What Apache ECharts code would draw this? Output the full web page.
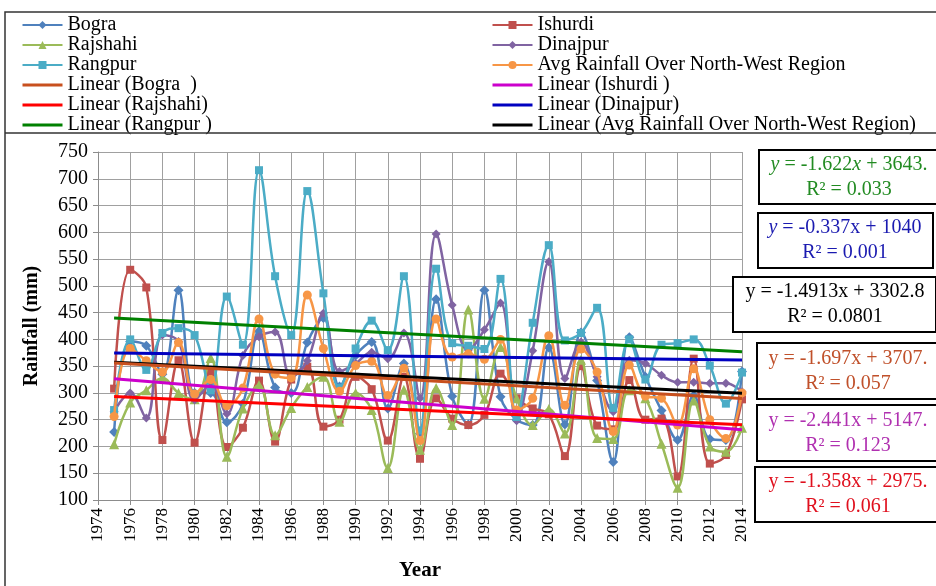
<!DOCTYPE html>
<html><head><meta charset="utf-8">
<script src="https://cdn.jsdelivr.net/npm/echarts@6/dist/echarts.min.js"></script>
<style>html,body{margin:0;padding:0;background:#fff}#c{width:936px;height:586px}</style>
</head><body><div id="c"></div>
<script>
const years = [1975,1976,1977,1978,1979,1980,1981,1982,1983,1984,1985,1986,1987,1988,1989,1990,1991,1992,1993,1994,1995,1996,1997,1998,1999,2000,2001,2002,2003,2004,2005,2006,2007,2008,2009,2010,2011,2012,2013,2014];
const bogra    = [227,396,388,335,492,300,300,245,280,415,310,300,394,440,312,370,395,271,355,224,475,294,241,492,293,250,240,385,241,413,323,171,404,330,267,212,295,214,212,340];
const ishurdi  = [308,530,497,212,361,207,340,199,235,323,209,325,349,237,250,330,307,211,330,177,290,252,240,259,336,290,271,260,182,350,239,232,324,250,252,144,364,168,184,288];
const rajshahi = [204,282,305,328,300,288,365,181,271,315,221,272,311,330,246,300,268,160,306,194,309,240,456,289,386,290,240,270,224,362,216,214,305,290,205,123,286,200,190,235];
const dinajpur = [265,300,253,408,396,287,315,261,370,405,414,330,360,449,340,355,376,364,412,290,597,464,380,418,468,248,379,545,327,395,330,265,361,355,333,320,320,318,318,302];
const rangpur  = [268,400,343,412,421,408,305,480,390,716,518,408,677,486,309,383,435,380,518,230,532,393,388,382,513,255,431,576,398,412,459,272,400,325,390,393,400,351,280,338];
const avgNW    = [256,383,360,339,394,298,325,276,309,438,335,328,483,383,303,351,359,295,346,211,438,367,373,363,400,268,290,407,277,382,339,228,352,294,290,240,345,250,215,300];

const seriesNames = ['Bogra','Ishurdi','Rajshahi','Dinajpur','Rangpur','Avg Rainfall Over North-West Region'];
const trendNames = ['Linear (Bogra  )','Linear (Ishurdi )','Linear (Rajshahi)','Linear (Dinajpur)','Linear (Rangpur )','Linear (Avg Rainfall Over North-West Region)'];
const trendSlopes = [-1.697,-2.441,-1.358,-0.337,-1.622,-1.4913];
const trendIntercepts = [3707.5,5147.5,2975.5,1040,3643.5,3302.8];
const trendR2 = ['0.057','0.123','0.061','0.001','0.033','0.0801'];
const yTicks = [100,750,50];
const xTicks = [1974,2014,2];

const FONT = "'Liberation Serif','Times New Roman',serif";
const dataColors = ['#4F81BD','#C0504D','#9BBB59','#8064A2','#4BACC6','#F79646'];
const trendColors = ['#C8501E','#CC00CC','#FF0000','#0000C0','#008000','#000000'];
const symbols = ['diamond','rect','triangle','diamond','rect','circle'];
const symSizes = [10,8,10,9,8,9];
const allData = [bogra,ishurdi,rajshahi,dinajpur,rangpur,avgNW];

const series = [];
allData.forEach((arr,k)=>{
  series.push({
    name: seriesNames[k], type:'line', smooth:0.4,
    data: years.map((y,i)=>[y,arr[i]]),
    symbol: symbols[k], symbolSize: symSizes[k],
    lineStyle:{color:dataColors[k], width:2.5},
    itemStyle:{color:dataColors[k]},
    z: 2+k
  });
});
[4,3,5,0,1,2].forEach(k=>{
  const x0 = years[0], x1 = years[years.length-1];
  series.push({
    name: trendNames[k], type:'line', symbol:'none',
    data: [[x0, trendSlopes[k]*x0+trendIntercepts[k]],[x1, trendSlopes[k]*x1+trendIntercepts[k]]],
    lineStyle:{color:trendColors[k], width:3},
    itemStyle:{color:trendColors[k]},
    z: 20
  });
});

const legendText = {fontFamily:FONT, fontSize:20, color:'#000'};
function legItem(name, isTrend){
  return isTrend ? {name:name, itemStyle:{opacity:0}, lineStyle:{width:3}} : {name:name};
}
const boxes = [
  {k:4, x:759, y:150, w:190, h:54, cx:849, col:'#228B22', italic:true},
  {k:3, x:758, y:213, w:175, h:55, cx:845, col:'#1A1AB0', italic:'y'},
  {k:5, x:733, y:277, w:203, h:55, cx:835, col:'#000000', italic:false},
  {k:0, x:757, y:343, w:190, h:56, cx:848, col:'#C0502A', italic:false},
  {k:1, x:757, y:405, w:190, h:56, cx:848, col:'#B030B0', italic:false},
  {k:2, x:755, y:467, w:190, h:55, cx:848, col:'#E0101E', italic:false}
];
function eqText(b){
  const s = Math.abs(trendSlopes[b.k]);
  let sl = (b.k===5)? s.toFixed(4) : s.toFixed(3);
  let ic = trendIntercepts[b.k];
  let it = (b.k===5)? ic.toFixed(1) : (b.k===3 ? String(ic) : Math.floor(ic)+'.');
  const yv = b.italic ? '{i|y}' : 'y';
  const xv = b.italic===true ? '{i|x}' : 'x';
  return yv+' = -'+sl+xv+' + '+it+'\nR² = '+trendR2[b.k];
}
const graphics = [
  {type:'rect', shape:{x:5,y:12,width:940,height:590}, style:{fill:null, stroke:'#333', lineWidth:1.5}, z:100},
  {type:'line', shape:{x1:5,y1:133,x2:936,y2:133}, style:{stroke:'#333', lineWidth:1.5}, z:100}
];
boxes.forEach(b=>{
  graphics.push({type:'rect', shape:{x:b.x,y:b.y,width:b.w,height:b.h}, style:{fill:'#fff', stroke:'#000', lineWidth:2}, z:100});
  graphics.push({type:'text', x:b.cx, y:b.y+b.h/2, z:101,
    style:{text:eqText(b), align:'center', verticalAlign:'middle', fill:b.col,
      font:'20px '+FONT, lineHeight:25,
      rich:{i:{fontStyle:'italic', fontFamily:FONT, fontSize:20, fill:b.col, lineHeight:25}}}});
});

const chart = echarts.init(document.getElementById('c'));
chart.setOption({
  animation:false,
  backgroundColor:'#fff',
  legend:[
    {data:[legItem(seriesNames[0]),legItem(seriesNames[2]),legItem(seriesNames[4]),legItem(trendNames[0],true),legItem(trendNames[2],true),legItem(trendNames[4],true)],
     orient:'vertical', left:16, top:10, itemWidth:40, itemHeight:10, itemGap:0, textStyle:legendText},
    {data:[legItem(seriesNames[1]),legItem(seriesNames[3]),legItem(seriesNames[5]),legItem(trendNames[1],true),legItem(trendNames[3],true),legItem(trendNames[5],true)],
     orient:'vertical', left:486, top:10, itemWidth:40, itemHeight:10, itemGap:0, textStyle:legendText}
  ],
  grid:{left:98, right:194, top:152, bottom:84},
  xAxis:{type:'value', min:xTicks[0], max:xTicks[1], interval:xTicks[2],
    name:'Year', nameLocation:'middle', nameGap:60,
    nameTextStyle:{fontFamily:FONT, fontSize:21, fontWeight:'bold', color:'#000'},
    axisLine:{lineStyle:{color:'#8c8c8c', width:1}},
    axisTick:{show:true, length:5, lineStyle:{color:'#8c8c8c'}},
    axisLabel:{rotate:90, fontFamily:FONT, fontSize:17, color:'#000', margin:8, formatter:(v)=>String(v)},
    splitLine:{show:true, lineStyle:{color:'#a0a0a0', width:1}}},
  yAxis:{type:'value', min:yTicks[0], max:yTicks[1], interval:yTicks[2],
    name:'Rainfall (mm)', nameLocation:'middle', nameGap:56,
    nameTextStyle:{fontFamily:FONT, fontSize:20, fontWeight:'bold', color:'#000'},
    axisLine:{show:true, lineStyle:{color:'#8c8c8c', width:1}},
    axisTick:{show:true, length:5, lineStyle:{color:'#8c8c8c'}},
    axisLabel:{fontFamily:FONT, fontSize:20, color:'#000', margin:10},
    splitLine:{show:true, lineStyle:{color:'#a0a0a0', width:1}}},
  series: series,
  graphic: graphics
});
</script></body></html>
